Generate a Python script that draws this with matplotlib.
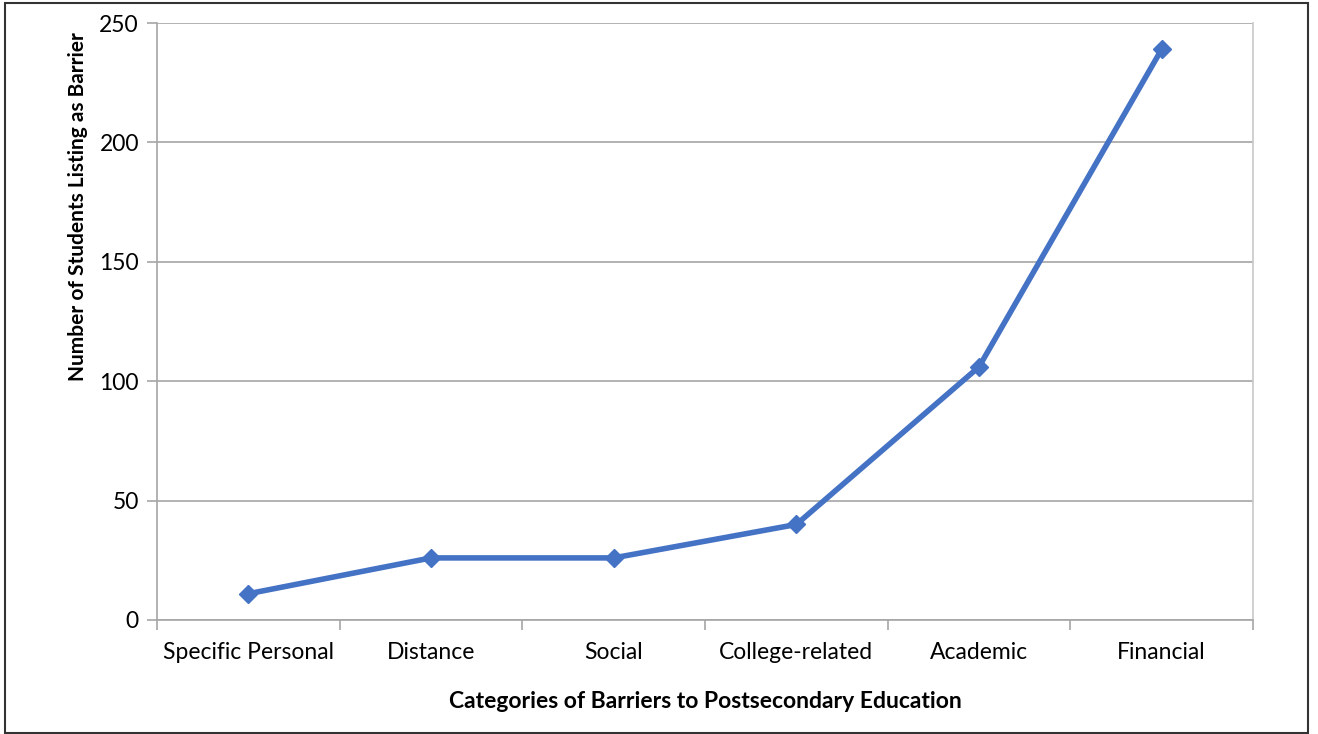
import matplotlib.pyplot as plt
import numpy as np

# --- Chart data ---
categories = ["Specific Personal", "Distance", "Social", "College-related", "Academic", "Financial"]
students = [11, 26, 26, 40, 106, 239]
yticks = [0, 50, 100, 150, 200, 250]

plt.rcParams['font.family'] = ['Lato', 'DejaVu Sans']

fig = plt.figure(figsize=(13.18, 7.34), dpi=100)
ax = fig.add_axes([157 / 1318, 1 - 620 / 734, (1253 - 157) / 1318, (620 - 23) / 734])

x = np.arange(len(categories))
ax.plot(x, students, color='#4472C4', linewidth=4.0, marker='D', markersize=9.5,
        solid_joinstyle='round', zorder=3)

ax.set_xlim(-0.5, len(categories) - 0.5)
ax.set_ylim(0, 250)
ax.set_yticks(yticks)
ax.set_xticks(x)
ax.set_xticklabels(categories, fontsize=16.5)
ax.set_xticks(np.arange(-0.5, len(categories)), minor=True)
ax.tick_params(axis='x', which='major', length=0, pad=16)
ax.tick_params(axis='x', which='minor', length=7, color='#A6A6A6', width=1.2)
ax.tick_params(axis='y', length=7, color='#A6A6A6', width=1.2, labelsize=16.5, pad=6)

ax.grid(axis='y', color='#A6A6A6', linewidth=1.2)
ax.set_axisbelow(True)
for side in ['left', 'bottom', 'right']:
    ax.spines[side].set_color('#A6A6A6')
    ax.spines[side].set_linewidth(1.2)
ax.spines['right'].set_color('#C8C8C8')
ax.spines['top'].set_visible(False)

ax.set_ylabel('Number of Students Listing as Barrier', fontsize=15, fontweight='bold')
ax.yaxis.set_label_coords(-79 / 1096, (620 - 207) / 597)
ax.set_xlabel('Categories of Barriers to Postsecondary Education', fontsize=16.5, fontweight='bold')
ax.xaxis.set_label_coords(0.5, -(702 - 620) / 597)
ax.xaxis.label.set_va('center')
ax.yaxis.label.set_va('center')

# outer border around the chart
border = plt.Rectangle((5 / 1318, 1 / 734), 1303 / 1318, 730 / 734, transform=fig.transFigure,
                       fill=False, edgecolor='#333333', linewidth=1.5)
fig.add_artist(border)

fig.savefig('out.png', dpi=100)
